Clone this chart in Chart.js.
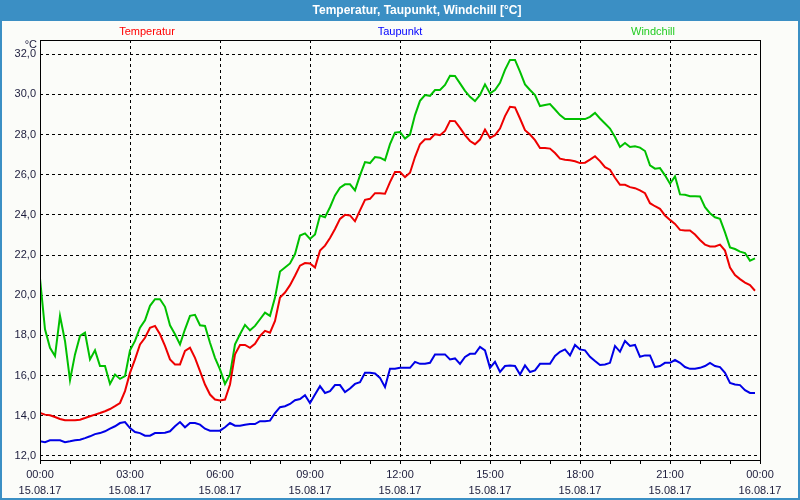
<!DOCTYPE html>
<html>
<head>
<meta charset="utf-8">
<script src="https://cdn.jsdelivr.net/npm/chart.js@4.4.0/dist/chart.umd.min.js"></script>
<style>
    html, body { margin: 0; padding: 0; background: #fbfcf9; }
    canvas { display: block; }
</style>
</head>
<body>
<canvas id="myChart" width="800" height="500"></canvas>
<script>
var titleText = 'Temperatur, Taupunkt, Windchill [°C]';
var seriesNames = ['Temperatur', 'Taupunkt', 'Windchill'];
var lineColors = ['#ee0000', '#0000e6', '#00c000'];
var labelColors = ['#ff0000', '#0000ff', '#22cc22'];

// one sample every 10 minutes, 00:00 .. 23:50
var stepMinutes = 10;

var temperatur = [
    14.13, 14.05, 14.02, 13.93, 13.83, 13.77, 13.77, 13.77, 13.8, 13.88, 13.97, 14.05,
    14.13, 14.22, 14.33, 14.47, 14.63, 15.22, 16.13, 16.8, 17.55, 17.88, 18.38, 18.47,
    18.05, 17.47, 16.8, 16.55, 16.55, 17.22, 17.38, 16.88, 16.22, 15.55, 15.05, 14.8,
    14.75, 14.8, 15.55, 17.05, 17.52, 17.52, 17.38, 17.58, 17.97, 18.22, 18.13, 18.72,
    19.88, 20.13, 20.5, 20.97, 21.47, 21.6, 21.58, 21.38, 22.22, 22.47, 22.85, 23.3,
    23.8, 24.0, 23.97, 23.68, 24.22, 24.75, 24.8, 25.08, 25.08, 25.05, 25.63, 26.13,
    26.13, 25.88, 26.1, 26.88, 27.52, 27.77, 27.77, 28.02, 27.97, 28.18, 28.68, 28.67,
    28.33, 27.97, 27.68, 27.52, 27.75, 28.25, 27.83, 27.97, 28.3, 28.92, 29.38, 29.35,
    28.8, 28.22, 28.0, 27.72, 27.33, 27.33, 27.3, 27.08, 26.8, 26.75, 26.72, 26.67,
    26.58, 26.6, 26.75, 26.92, 26.68, 26.38, 26.25, 25.85, 25.5, 25.5, 25.38, 25.33,
    25.22, 25.08, 24.58, 24.43, 24.3, 23.97, 23.75, 23.55, 23.25, 23.22, 23.22, 23.02,
    22.75, 22.52, 22.43, 22.43, 22.52, 22.22, 21.38, 21.0, 20.8, 20.63, 20.5, 20.22
];
var taupunkt = [
    12.72, 12.68, 12.77, 12.77, 12.77, 12.68, 12.72, 12.77, 12.8, 12.88, 12.97, 13.08,
    13.13, 13.22, 13.35, 13.47, 13.63, 13.68, 13.38, 13.18, 13.13, 13.0, 13.0, 13.13,
    13.13, 13.15, 13.22, 13.47, 13.68, 13.42, 13.63, 13.63, 13.55, 13.35, 13.25, 13.25,
    13.25, 13.42, 13.63, 13.5, 13.5, 13.55, 13.58, 13.58, 13.72, 13.72, 13.75, 14.13,
    14.42, 14.47, 14.58, 14.77, 14.83, 15.02, 14.63, 15.05, 15.47, 15.13, 15.22, 15.52,
    15.52, 15.17, 15.35, 15.58, 15.67, 16.13, 16.13, 16.1, 15.88, 15.42, 16.33, 16.33,
    16.38, 16.38, 16.38, 16.68, 16.58, 16.58, 16.63, 17.05, 17.05, 17.05, 16.8, 16.85,
    16.58, 16.92, 17.08, 17.08, 17.42, 17.25, 16.38, 16.68, 16.18, 16.47, 16.5, 16.47,
    16.05, 16.5, 16.17, 16.25, 16.58, 16.58, 16.58, 16.97, 17.18, 17.3, 17.0, 17.52,
    17.3, 17.25, 16.93, 16.72, 16.52, 16.55, 16.63, 17.47, 17.18, 17.72, 17.47, 17.52,
    16.93, 17.0, 17.0, 16.42, 16.47, 16.63, 16.63, 16.77, 16.63, 16.42, 16.33, 16.33,
    16.38, 16.47, 16.63, 16.47, 16.42, 16.13, 15.63, 15.55, 15.52, 15.27, 15.13, 15.13
];
var windchill = [
    20.83, 18.3, 17.38, 16.97, 18.97, 17.72, 15.77, 17.05, 17.97, 18.13, 16.8, 17.25,
    16.47, 16.47, 15.58, 16.05, 15.83, 15.97, 17.25, 17.72, 18.38, 18.75, 19.47, 19.8,
    19.8, 19.42, 18.5, 18.05, 17.55, 18.3, 18.97, 19.02, 18.5, 18.47, 17.63, 16.88,
    16.3, 15.58, 16.05, 17.55, 18.05, 18.52, 18.25, 18.47, 18.8, 19.13, 18.97, 19.88,
    21.18, 21.38, 21.58, 22.05, 22.97, 23.08, 22.8, 23.02, 23.97, 23.88, 24.38, 24.97,
    25.35, 25.52, 25.52, 25.22, 25.97, 26.63, 26.58, 26.88, 26.85, 26.72, 27.52, 28.1,
    28.13, 27.8, 28.0, 28.97, 29.68, 29.97, 29.93, 30.22, 30.22, 30.47, 30.93, 30.92,
    30.55, 30.18, 29.88, 29.67, 29.97, 30.5, 30.05, 30.22, 30.58, 31.22, 31.72, 31.72,
    31.13, 30.5, 30.22, 29.97, 29.42, 29.47, 29.52, 29.25, 28.97, 28.77, 28.77, 28.77,
    28.77, 28.77, 28.88, 29.08, 28.8, 28.55, 28.3, 27.88, 27.38, 27.58, 27.38, 27.42,
    27.35, 27.18, 26.47, 26.3, 26.33, 25.97, 25.55, 25.92, 25.02, 25.0, 24.93, 24.93,
    24.92, 24.38, 24.08, 23.88, 23.8, 23.13, 22.38, 22.3, 22.17, 22.1, 21.72, 21.83
];

var xTickTimes = ['00:00', '03:00', '06:00', '09:00', '12:00', '15:00', '18:00', '21:00', '00:00'];
var xTickDates = ['15.08.17', '15.08.17', '15.08.17', '15.08.17', '15.08.17', '15.08.17', '15.08.17', '15.08.17', '16.08.17'];
var yTicks = [12, 14, 16, 18, 20, 22, 24, 26, 28, 30, 32];
var yMin = 11.79, yMax = 32.71;

function toPoints(values) {
    var pts = [];
    for (var i = 0; i < values.length; i++) {
        pts.push({ x: i * stepMinutes, y: values[i] });
    }
    return pts;
}

var textColor = '#1c1c3c';
var fontName = '"Liberation Sans", Arial, sans-serif';

// title bar, legend texts, unit label and plot frame
var decor = {
    id: 'decor',
    beforeDraw: function (chart) {
        var c = chart.ctx;
        c.save();
        c.fillStyle = '#fbfcf9';
        c.fillRect(0, 0, chart.width, chart.height);
        c.fillStyle = '#3b8fc4';
        c.fillRect(0, 0, chart.width, 21);
        c.fillRect(0, 0, 2, chart.height);
        c.fillRect(chart.width - 2, 0, 2, chart.height);
        c.fillRect(0, chart.height - 2, chart.width, 2);
        c.fillStyle = '#ffffff';
        c.font = 'bold 12px ' + fontName;
        c.textAlign = 'center';
        c.textBaseline = 'middle';
        c.fillText(titleText, 417, 11);
        c.restore();
    },
    afterDraw: function (chart) {
        var c = chart.ctx, a = chart.chartArea;
        c.save();
        c.strokeStyle = '#000';
        c.lineWidth = 1;
        c.setLineDash([]);
        c.strokeRect(a.left + 0.5, a.top + 0.5, a.right - a.left, a.bottom - a.top);
        c.font = '11px ' + fontName;
        c.textAlign = 'center';
        c.textBaseline = 'middle';
        var mid = (a.left + a.right) / 2;
        var spread = 253;
        for (var i = 0; i < seriesNames.length; i++) {
            c.fillStyle = labelColors[i];
            c.fillText(seriesNames[i], mid + (i - 1) * spread, 32);
        }
        c.fillStyle = textColor;
        c.textAlign = 'right';
        c.fillText('°C', 37, 45);
        c.restore();
    }
};

new Chart(document.getElementById('myChart'), {
    type: 'line',
    data: {
        datasets: [
            { label: seriesNames[0], data: toPoints(temperatur), borderColor: lineColors[0] },
            { label: seriesNames[1], data: toPoints(taupunkt), borderColor: lineColors[1] },
            { label: seriesNames[2], data: toPoints(windchill), borderColor: lineColors[2] }
        ]
    },
    options: {
        responsive: false,
        animation: false,
        layout: { padding: { left: 0, right: 40, top: 40, bottom: 0 } },
        elements: {
            line: { borderWidth: 2, tension: 0, fill: false },
            point: { radius: 0 }
        },
        plugins: {
            legend: { display: false },
            title: { display: false },
            tooltip: { enabled: false }
        },
        scales: {
            x: {
                type: 'linear',
                min: 0,
                max: 1440,
                afterBuildTicks: function (scale) {
                    var t = [];
                    for (var h = 0; h <= 24; h++) t.push({ value: h * 60 });
                    scale.ticks = t;
                },
                afterFit: function (scale) { scale.height = 40; },
                grid: {
                    color: function (ctx) {
                        var v = ctx.tick ? ctx.tick.value : 0;
                        return (v % 180 === 0 && v > 0 && v < 1440) ? '#000' : 'rgba(0,0,0,0)';
                    },
                    tickColor: '#000',
                    tickLength: 4,
                    lineWidth: 1
                },
                border: { display: false, dash: [3, 3] },
                ticks: {
                    autoSkip: false,
                    maxRotation: 0,
                    padding: 3,
                    color: textColor,
                    font: { family: fontName, size: 11, lineHeight: 1.45 },
                    callback: function (value) {
                        if (value % 180 !== 0) return '';
                        var k = value / 180;
                        return [xTickTimes[k], xTickDates[k]];
                    }
                }
            },
            y: {
                min: yMin,
                max: yMax,
                afterBuildTicks: function (scale) {
                    scale.ticks = yTicks.map(function (v) { return { value: v }; });
                },
                afterFit: function (scale) { scale.width = 40; },
                grid: { color: '#000', lineWidth: 1, drawTicks: false },
                border: { display: false, dash: [3, 3] },
                ticks: {
                    padding: 4,
                    color: textColor,
                    font: { family: fontName, size: 11 },
                    callback: function (value) {
                        return value.toFixed(1).replace('.', ',');
                    }
                }
            }
        }
    },
    plugins: [decor]
});
</script>
</body>
</html>
